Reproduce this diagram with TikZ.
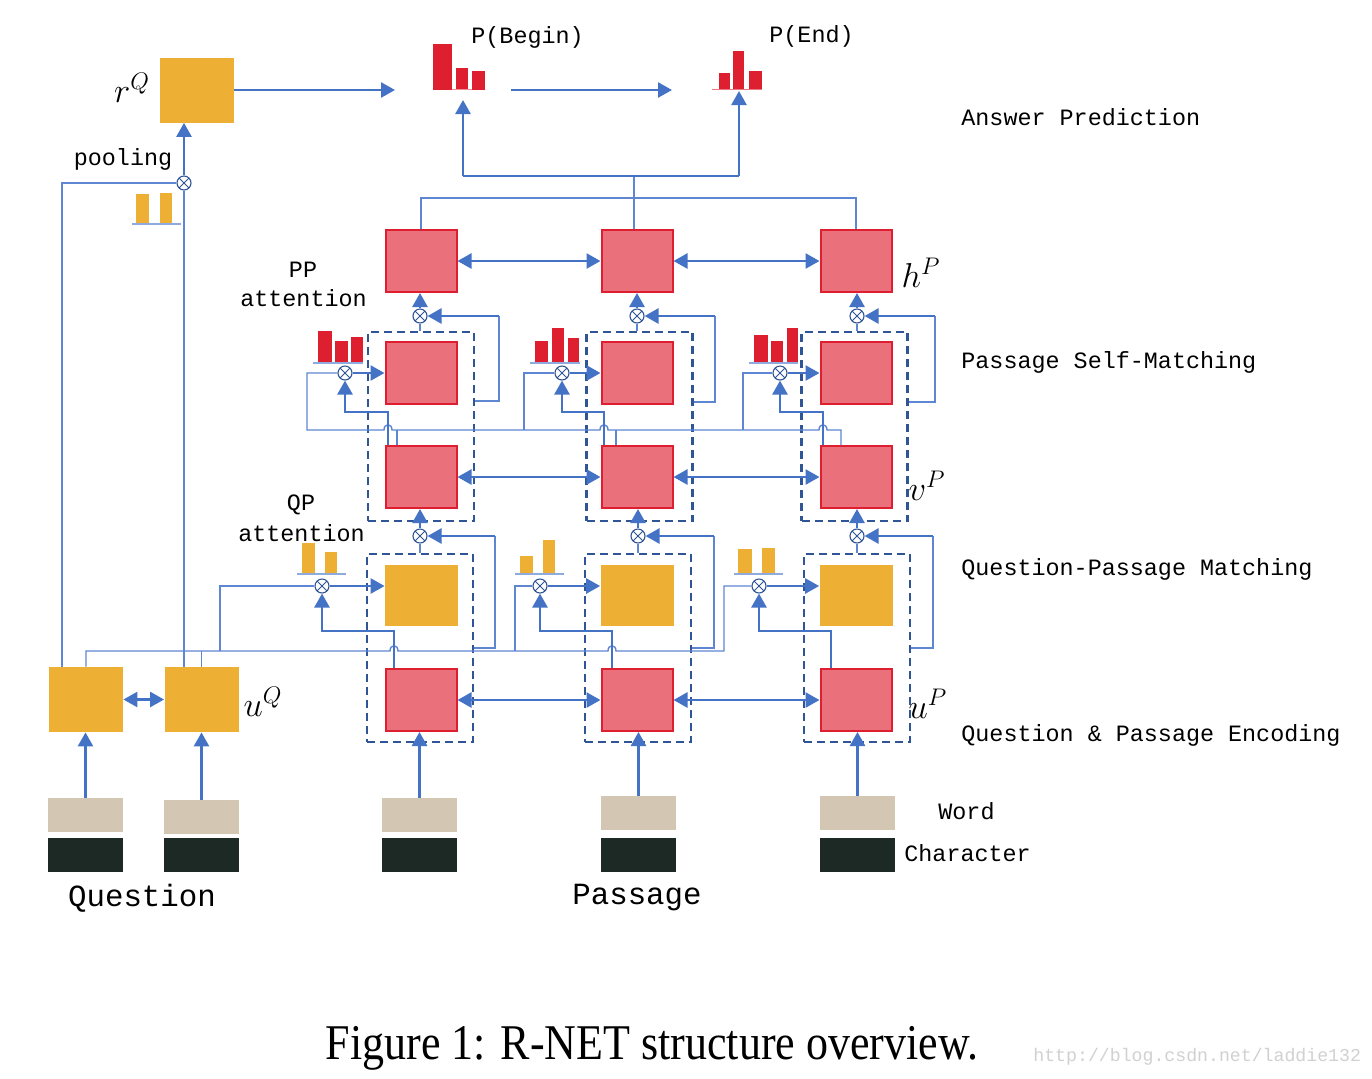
\documentclass[tikz,border=0pt]{standalone}
\usepackage{fontspec}
\usepackage{graphicx}
\newfontfamily\lmono{Liberation Mono}
\newfontfamily\lserif{Liberation Serif}
\usetikzlibrary{arrows.meta,calc}
\definecolor{rnblue}{HTML}{4472C4}
\definecolor{rnthin}{HTML}{5F86D2}
\definecolor{rndash}{HTML}{2F5597}
\definecolor{rnred}{HTML}{DE1F2F}
\definecolor{rnpink}{HTML}{EA717B}
\definecolor{rnorange}{HTML}{EDB035}
\definecolor{rnbeige}{HTML}{D3C7B3}
\definecolor{rndark}{HTML}{1C2924}
\begin{document}
\begin{tikzpicture}[x=0.5pt,y=-0.5pt,
  pbox/.style={draw=rnred, fill=rnpink, line width=1pt, minimum width=35.5pt, minimum height=31pt, inner sep=0pt},
  obox/.style={fill=rnorange, minimum width=36.5pt, minimum height=30.5pt, inner sep=0pt},
  qbox/.style={fill=rnorange, minimum width=37pt, minimum height=32.5pt, inner sep=0pt},
  wemb/.style={fill=rnbeige, minimum width=37.5pt, minimum height=17pt, inner sep=0pt},
  cemb/.style={fill=rndark, minimum width=37.5pt, minimum height=17pt, inner sep=0pt},
  dbox/.style={draw=rndash, line width=1.2pt, dash pattern=on 4pt off 2.5pt, minimum width=53pt, minimum height=94.5pt, inner sep=0pt},
  gate/.style={circle, draw=rndash, fill=white, line width=0.55pt, minimum size=7pt, inner sep=0pt,
    path picture={\draw[rndash,line width=0.45pt] (path picture bounding box.north west) -- (path picture bounding box.south east)
      (path picture bounding box.north east) -- (path picture bounding box.south west);}},
  conn/.style={draw=rnblue, line width=1.3pt},
  arr/.style={conn, -{Triangle[length=7pt,width=7.5pt]}},
  biarr/.style={conn, {Triangle[length=7pt,width=7.5pt]}-{Triangle[length=7pt,width=7.5pt]}},
  thinl/.style={draw=rnthin, line width=0.7pt},
  barbase/.style={draw=rnthin!70, line width=0.7pt},
  mono/.style={font=\lmono\fontsize{11.7}{14}\selectfont, inner sep=0pt},
  bigmono/.style={font=\lmono\fontsize{15.4}{18}\selectfont, inner sep=0pt},
  mlab/.style={font=\fontsize{17}{19}\selectfont, inner sep=0pt},
]
\fill[white] (0,0) rectangle (1372,1078);
\useasboundingbox (0,0) rectangle (1372,1078);

% ---------- boxes ----------
\node[qbox] (rq) at (197,90) {};
\node[pbox] (h1) at (421,261) {};
\node[pbox] (h2) at (637,261) {};
\node[pbox] (h3) at (856,261) {};
\node[pbox] (m1) at (421,373) {};
\node[pbox] (m2) at (637,373) {};
\node[pbox] (m3) at (856,373) {};
\node[pbox] (v1) at (421,477) {};
\node[pbox] (v2) at (637,477) {};
\node[pbox] (v3) at (856,477) {};
\node[obox] (o1) at (421.5,595.5) {};
\node[obox] (o2) at (637,595.5) {};
\node[obox] (o3) at (856,595.5) {};
\node[pbox] (u1) at (421,700) {};
\node[pbox] (u2) at (637,700) {};
\node[pbox] (u3) at (856,700) {};
\node[qbox] (q1) at (86,699.5) {};
\node[qbox] (q2) at (201.5,699.5) {};

% dashed groups
\node[dbox] (d1) at (421,426.5) {};
\node[dbox] (d2) at (639.5,426.5) {};
\node[dbox] (d3) at (854.5,426.5) {};
\node[dbox, minimum height=94pt] (dq1) at (420,648) {};
\node[dbox, minimum height=94pt] (dq2) at (638,648) {};
\node[dbox, minimum height=94pt] (dq3) at (857,648) {};

% embeddings
\node[wemb] (qw1) at (85.5,815) {};
\node[wemb] (qw2) at (201.5,817) {};
\node[cemb] (qc1) at (85.5,855) {};
\node[cemb] (qc2) at (201.5,855) {};
\node[wemb] (pw1) at (419.5,815) {};
\node[wemb] (pw2) at (638.5,813) {};
\node[wemb] (pw3) at (857.5,813) {};
\node[cemb] (pc1) at (419.5,855) {};
\node[cemb] (pc2) at (638.5,855) {};
\node[cemb] (pc3) at (857.5,855) {};

% gates
\node[gate] (pg) at (184,183) {};
\node[gate] (g1) at (420,316) {};
\node[gate] (g2) at (637,316) {};
\node[gate] (g3) at (857,316) {};
\node[gate] (a1) at (345,373) {};
\node[gate] (a2) at (562,373) {};
\node[gate] (a3) at (780,373) {};
\node[gate] (gq1) at (420,536) {};
\node[gate] (gq2) at (638,536) {};
\node[gate] (gq3) at (857,536) {};
\node[gate] (b1) at (322,586) {};
\node[gate] (b2) at (540,586) {};
\node[gate] (b3) at (759,586) {};

% free-end coordinates
\coordinate (pbin) at (395,90);
\coordinate (pbout) at (511,90);
\coordinate (pein) at (672,90);
\coordinate (pbup) at (463,100);
\coordinate (peup) at (739,91);
\coordinate (hub) at (634,176);

% ---------- bar charts ----------
\fill[rnred] (433,44) rectangle (452,90);
\fill[rnred] (456,68) rectangle (468,90);
\fill[rnred] (472,71) rectangle (485,90);
\draw[rnred!50, line width=0.6pt] (452,89.5) -- (472,89.5);
\fill[rnred] (719,73) rectangle (730,90);
\fill[rnred] (733,51) rectangle (744,90);
\fill[rnred] (749,71) rectangle (762,90);
\draw[rnred!60, line width=0.6pt] (712,89.5) -- (762,89.5);

\fill[rnred] (318,331) rectangle (332,363);
\fill[rnred] (335,341) rectangle (348,363);
\fill[rnred] (351,337) rectangle (363,363);
\draw[barbase] (313,363) -- (363,363);
\fill[rnred] (535,341) rectangle (548,363);
\fill[rnred] (552,328) rectangle (564,363);
\fill[rnred] (568,338) rectangle (579,363);
\draw[barbase] (530,363) -- (580,363);
\fill[rnred] (754,335) rectangle (768,363);
\fill[rnred] (771,341) rectangle (783,363);
\fill[rnred] (787,328) rectangle (798,363);
\draw[barbase] (749,363) -- (798,363);

\fill[rnorange] (302,543) rectangle (315,574);
\fill[rnorange] (325,552) rectangle (337,574);
\draw[barbase] (297,574) -- (346,574);
\fill[rnorange] (520,556) rectangle (533,574);
\fill[rnorange] (543,540) rectangle (555,574);
\draw[barbase] (515,574) -- (564,574);
\fill[rnorange] (738,549) rectangle (752,574);
\fill[rnorange] (762,548) rectangle (775,574);
\draw[barbase] (734,574) -- (783,574);

\fill[rnorange] (136,194) rectangle (149,224);
\fill[rnorange] (160,193) rectangle (172,224);
\draw[barbase] (132,224) -- (181,224);

% ---------- thin connectors ----------
% answer layer
\draw[thinl] (h1.north) -- (421,198) -| (h3.north);
\draw[thinl] (h2.north -| hub) -- (hub);
% pooling
\draw[thinl] (pg.west) -| (q1.north -| 62,0);
\draw[thinl] (pg.south) -- (q2.north -| 184,0);
% self-matching
\draw[thinl] (d1.north -| g1) -- (g1.south);
\draw[thinl] (d2.north -| g2) -- (g2.south);
\draw[thinl] (d3.north -| g3) -- (g3.south);
\draw[thinl] (d1.east |- 0,401) -- (499,401) -- (499,316);
\draw[thinl] (d2.east |- 0,402) -- (715,402) -- (715,316);
\draw[thinl] (d3.east |- 0,402) -- (935,402) -- (935,316);
\draw[thinl] (a1.west) -| (307,430) -- (384,430) .. controls (384,423) and (392,423) .. (392,430)
  -- (600,430) .. controls (600,423) and (608,423) .. (608,430)
  -- (819,430) .. controls (819,423) and (827,423) .. (827,430) -- (841,430) -- (v3.north -| 841,0);
\draw[thinl] (a2.west) -| (524,430);
\draw[thinl] (a3.west) -| (743,430);
\draw[thinl] (397,430) -- (v1.north -| 397,0);
\draw[thinl] (616,430) -- (v2.north -| 616,0);
% question-passage matching
\draw[thinl] (dq1.north -| gq1) -- (gq1.south);
\draw[thinl] (dq2.north -| gq2) -- (gq2.south);
\draw[thinl] (dq3.north -| gq3) -- (gq3.south);
\draw[thinl] (dq1.east |- 0,648) -- (495,648) -- (495,536);
\draw[thinl] (dq2.east |- 0,648) -- (714,648) -- (714,536);
\draw[thinl] (dq3.east |- 0,648) -- (933,648) -- (933,536);
\draw[thinl] (q1.north) -- (86,651) -- (390,651) .. controls (390,644) and (398,644) .. (398,651)
  -- (608,651) .. controls (608,644) and (616,644) .. (616,651) -- (724,651) |- (b3.west);
\draw[thinl] (q2.north) -- (201.5,651);
\draw[thinl] (220,651) |- (b1.west);
\draw[thinl] (515,651) |- (b2.west);

% ---------- thick connectors ----------
\draw[arr] (rq.east) -- (pbin);
\draw[arr] (pbout) -- (pein);
\draw[conn] (hub) -- (463,176);
\draw[conn] (hub) -- (739,176);
\draw[arr] (463,176) -- (pbup);
\draw[arr] (739,176) -- (peup);
\draw[arr] (pg.north) -- (rq.south -| pg);

\draw[biarr] (h1) -- (h2);
\draw[biarr] (h2) -- (h3);
\draw[biarr] (v1) -- (v2);
\draw[biarr] (v2) -- (v3);
\draw[biarr] (u1) -- (u2);
\draw[biarr] (u2) -- (u3);
\draw[biarr] (q1) -- (q2);

\draw[arr] (g1.north) -- (g1.north |- h1.south);
\draw[arr] (g2.north) -- (g2.north |- h2.south);
\draw[arr] (g3.north) -- (g3.north |- h3.south);
\draw[arr] (499,316) -- (g1.east);
\draw[arr] (715,316) -- (g2.east);
\draw[arr] (935,316) -- (g3.east);

\draw[arr] (a1.east) -- (a1.east -| m1.west);
\draw[arr] (a2.east) -- (a2.east -| m2.west);
\draw[arr] (a3.east) -- (a3.east -| m3.west);
\draw[arr] (v1.north -| 388,0) -- (388,412) -| (a1.south);
\draw[arr] (v2.north -| 604,0) -- (604,412) -| (a2.south);
\draw[arr] (v3.north -| 823,0) -- (823,412) -| (a3.south);

\draw[arr] (gq1.north) -- (gq1.north |- v1.south);
\draw[arr] (gq2.north) -- (gq2.north |- v2.south);
\draw[arr] (gq3.north) -- (gq3.north |- v3.south);
\draw[arr] (495,536) -- (gq1.east);
\draw[arr] (714,536) -- (gq2.east);
\draw[arr] (933,536) -- (gq3.east);

\draw[arr] (b1.east) -- (b1.east -| o1.west);
\draw[arr] (b2.east) -- (b2.east -| o2.west);
\draw[arr] (b3.east) -- (b3.east -| o3.west);
\draw[arr] (u1.north -| 394,0) -- (394,631) -| (b1.south);
\draw[arr] (u2.north -| 612,0) -- (612,631) -| (b2.south);
\draw[arr] (u3.north -| 831,0) -- (831,631) -| (b3.south);

\draw[arr] (qw1.north) -- (qw1.north |- q1.south);
\draw[arr] (qw2.north) -- (qw2.north |- q2.south);
\draw[arr] (pw1.north) -- (pw1.north |- u1.south);
\draw[arr] (pw2.north) -- (pw2.north |- u2.south);
\draw[arr] (pw3.north) -- (pw3.north |- u3.south);

% ---------- texts ----------
\node[mlab] (lrq) at (132,88) {$r^{Q}$};
\node[mlab] (luq) at (263,702) {$u^{Q}$};
\node[mlab] (lhp) at (921,273) {$h^{P}$};
\node[mlab] (lvp) at (927,486) {$v^{P}$};
\node[mlab] (lup) at (928,704) {$u^{P}$};

\node[mono, anchor=west] (tpb) at (471,37) {P(Begin)};
\node[mono, anchor=west] (tpe) at (769,36) {P(End)};
\node[mono] (tpool) at (123,159) {pooling};
\node[mono] (tpp) at (303,270) {PP};
\node[mono] (tppa) at (303.5,298) {attention};
\node[mono] (tqp) at (301,505) {QP};
\node[mono] (tqpa) at (301.5,533) {attention};

\node[mono, anchor=west] (tl1) at (961,117) {Answer Prediction};
\node[mono, anchor=west] (tl2) at (961,362) {Passage Self-Matching};
\node[mono, anchor=west] (tl3) at (961,569) {Question-Passage Matching};
\node[mono, anchor=west] (tl4) at (961,735) {Question \& Passage Encoding};
\node[mono, anchor=west] (tw) at (938,811) {Word};
\node[mono, anchor=west] (tc) at (904,853) {Character};

\node[bigmono] (tq) at (142,898) {Question};
\node[bigmono] (tp) at (637,898) {Passage};

\node[font=\lserif\fontsize{25}{28}\selectfont, inner sep=0pt] (cap) at (652,1048) {\scalebox{0.88}[1]{Figure 1: R-NET structure overview.}};
\node[font=\lmono\fontsize{9.1}{11}\selectfont, text=black!18, anchor=west, inner sep=0pt] (wm) at (1033,1057) {http://blog.csdn.net/laddie132};
\end{tikzpicture}
\end{document}
